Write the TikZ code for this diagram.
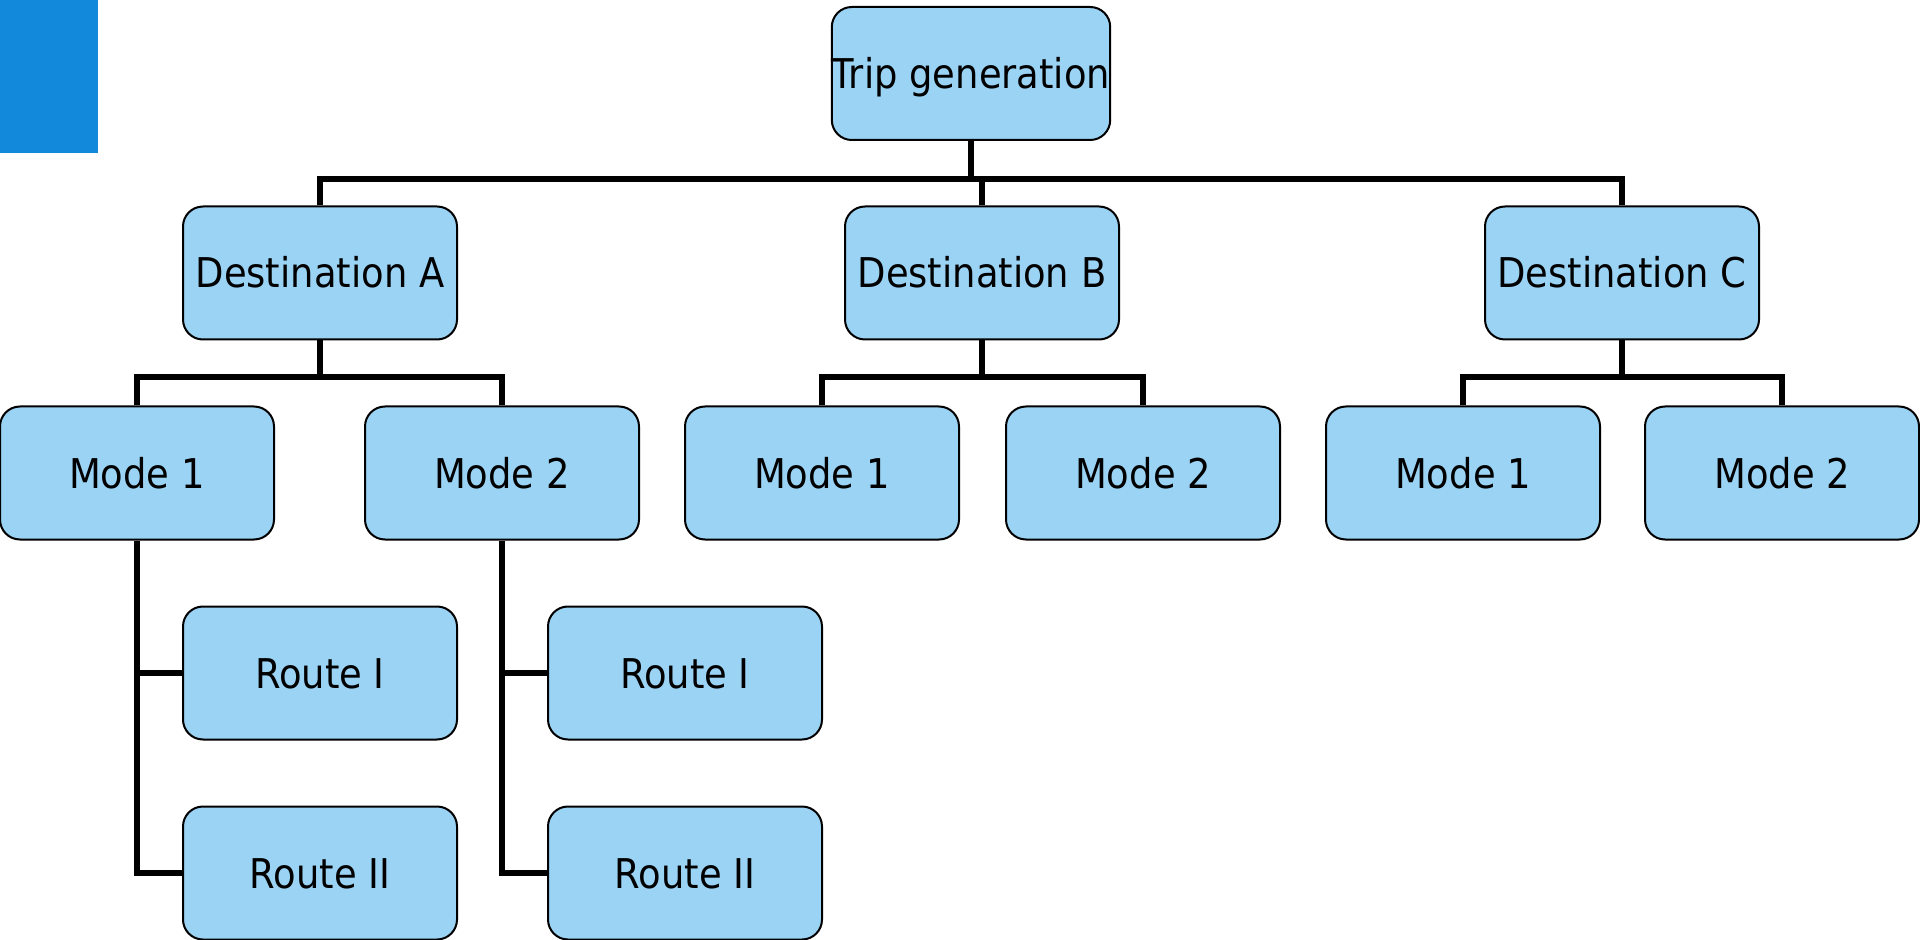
\documentclass[tikz,border=0pt]{standalone}
\usepackage{fontspec}
\setmainfont{DejaVu Sans}[FakeStretch=0.9]
\definecolor{boxfill}{RGB}{155,211,245}
\definecolor{tabblue}{RGB}{18,137,219}
\tikzset{
  box/.style={draw=black, line width=1pt, fill=boxfill, rounded corners=10pt,
    minimum width=137pt, minimum height=66.5pt, inner sep=0pt,
    font=\fontsize{20.5pt}{24pt}\selectfont, text height=15pt, text depth=0pt},
  link/.style={draw=black, line width=2.8pt, line join=miter}
}
\begin{document}
\begin{tikzpicture}[x=0.5pt, y=-0.5pt]
  \useasboundingbox (0,0) rectangle (1920,940);
  % corner tab
  \fill[tabblue] (0,0) rectangle (98,153);

  % heights of the two horizontal bus lines
  \coordinate (bus1) at (0,179);
  \coordinate (bus2) at (0,377);

  \node[box] (trip) at (971,73.5) {Trip generation};
  \node[box] (destA) at (320,273) {Destination A};
  \node[box] (destB) at (982,273) {Destination B};
  \node[box] (destC) at (1622,273) {Destination C};

  \node[box] (mA1) at (137,473) {Mode 1};
  \node[box] (mA2) at (502,473) {Mode 2};
  \node[box] (mB1) at (822,473) {Mode 1};
  \node[box] (mB2) at (1143,473) {Mode 2};
  \node[box] (mC1) at (1463,473) {Mode 1};
  \node[box] (mC2) at (1782,473) {Mode 2};

  \node[box] (rA1) at (320,673) {Route I};
  \node[box] (rA2) at (320,873) {Route II};
  \node[box] (rB1) at (685,673) {Route I};
  \node[box] (rB2) at (685,873) {Route II};

  % level 1: trip generation to destinations
  \draw[link] (trip.south) -- (trip.south |- bus1);
  \draw[link] (destA.north) -- (destA.north |- bus1) -- (destC.north |- bus1) -- (destC.north);
  \draw[link] (destB.north) -- (destB.north |- bus1);

  % level 2: destinations to modes
  \draw[link] (destA.south) -- (destA.south |- bus2);
  \draw[link] (mA1.north) -- (mA1.north |- bus2) -- (mA2.north |- bus2) -- (mA2.north);
  \draw[link] (destB.south) -- (destB.south |- bus2);
  \draw[link] (mB1.north) -- (mB1.north |- bus2) -- (mB2.north |- bus2) -- (mB2.north);
  \draw[link] (destC.south) -- (destC.south |- bus2);
  \draw[link] (mC1.north) -- (mC1.north |- bus2) -- (mC2.north |- bus2) -- (mC2.north);

  % level 3: modes to routes
  \draw[link] (mA1.south) |- (rA2.west);
  \draw[link] (mA1.south |- rA1.west) -- (rA1.west);
  \draw[link] (mA2.south) |- (rB2.west);
  \draw[link] (mA2.south |- rB1.west) -- (rB1.west);
\end{tikzpicture}
\end{document}
